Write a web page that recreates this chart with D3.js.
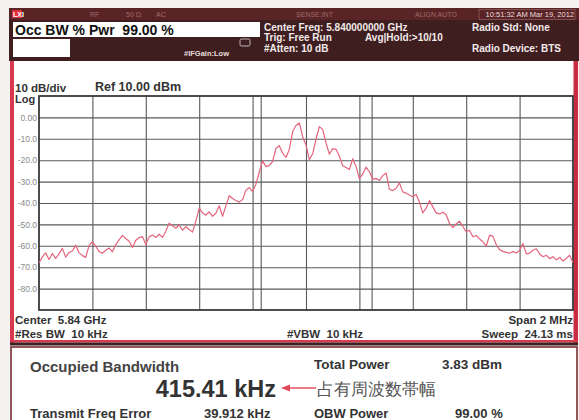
<!DOCTYPE html>
<html>
<head>
<meta charset="utf-8">
<script src="https://cdn.jsdelivr.net/npm/d3@7"></script>
<style>
  html, body { margin: 0; padding: 0; background: #f4f2f1; }
  svg { display: block; }
  text { font-family: "Liberation Sans", Arial, sans-serif; white-space: pre; }
</style>
</head>
<body>
<svg id="screen" width="579" height="420"></svg>
<script>
// Sweep settings
const centerGHz = 5.84;
const spanKHz = 2000;
const refLevel = 10;          // dBm, top of the graticule
const dbPerDiv = 10;
const divisions = 10;

// Measured trace (dBm), one point every 12.5 kHz from center-1 MHz to center+1 MHz
const traceStartKHz = -1000;
const traceStepKHz = 12.5;
const traceDbm = [
  -68.0, -65.2, -63.3, -66.4, -63.6, -65.9, -63.8, -61.2, -65.3, -63.1,
  -62.4, -59.8, -63.2, -64.6, -65.4, -59.9, -58.1, -60.2, -62.6, -63.5,
  -62.1, -61.0, -62.8, -59.5, -57.2, -55.1, -56.6, -57.9, -60.8, -57.4,
  -56.2, -55.7, -59.4, -55.8, -55.0, -56.1, -54.6, -56.0, -53.2, -49.4,
  -50.6, -51.8, -50.3, -52.7, -51.1, -52.4, -53.6, -48.5, -42.4, -44.6,
  -45.7, -44.1, -46.2, -44.8, -41.3, -46.2, -41.2, -36.6, -37.9, -38.8,
  -39.6, -38.4, -34.0, -32.8, -34.6, -31.2, -25.5, -20.3, -23.0, -22.4,
  -20.6, -14.5, -13.2, -16.8, -18.7, -15.0, -6.6, -3.8, -2.6, -9.0,
  -12.8, -19.8, -17.0, -10.2, -4.3, -5.6, -12.0, -17.2, -14.6, -14.9,
  -18.2, -22.6, -23.4, -24.4, -19.3, -23.0, -28.6, -26.4, -23.2, -25.4,
  -28.8, -28.6, -29.4, -27.2, -26.0, -33.6, -34.2, -33.1, -30.6, -34.8,
  -35.4, -36.3, -37.1, -36.0, -39.6, -44.6, -42.4, -38.9, -41.8, -44.6,
  -45.1, -44.3, -45.5, -49.6, -51.5, -49.8, -48.5, -51.0, -53.4, -52.7,
  -55.8, -55.2, -56.8, -58.1, -60.2, -55.0, -55.6, -59.4, -61.8, -62.6,
  -63.1, -63.5, -62.7, -63.4, -62.2, -58.9, -63.8, -63.4, -62.1, -61.4,
  -63.8, -65.1, -64.4, -66.0, -65.1, -66.6, -65.4, -67.1, -65.9, -64.4,
  -67.8
];

// Occupied bandwidth result
const obwKHz = 415.41;
const freqErrorKHz = 39.912;
const totalPowerDbm = 3.83;
const obwPowerPct = 99.00;

// Y tick labels shown beside the graticule
const yTickValues = [0, -10, -20, -30, -40, -50, -60, -70, -80];
const yTickLabels = ["0.00", "-10.0", "-20.0", "-30.0", "-40.0", "-50.0", "-60.0", "-70.0", "-80.0"];

const svg = d3.select("#screen");

// ---------- instrument header ----------
const header = svg.append("g");
header.append("rect").attr("x", 9).attr("y", 8).attr("width", 570).attr("height", 53).attr("fill", "#3f1e20");
header.append("rect").attr("x", 9).attr("y", 8).attr("width", 570).attr("height", 12).attr("fill", "#5a2426");
header.append("rect").attr("x", 12).attr("y", 10).attr("width", 10).attr("height", 8).attr("fill", "#e0303c");
header.append("text").attr("x", 13).attr("y", 17).attr("font-size", 7).attr("font-weight", "bold").attr("fill", "#fff").text("LXI");
[["RF", 90], ["50 Ω", 126], ["AC", 156], ["SENSE:INT", 296], ["ALIGN AUTO", 415]].forEach(([t, x]) => {
  header.append("text").attr("x", x).attr("y", 17).attr("font-size", 7).attr("fill", "#a06a6a").text(t);
});
header.append("rect").attr("x", 479).attr("y", 9.5).attr("width", 96).attr("height", 10).attr("fill", "none").attr("stroke", "#8a5a5a").attr("stroke-width", 0.8);
header.append("text").attr("x", 574).attr("y", 17).attr("text-anchor", "end").attr("font-size", 7.5).attr("fill", "#e8dede").text("10:51:32 AM Mar 19, 2012");

header.append("rect").attr("x", 13).attr("y", 22).attr("width", 247).attr("height", 15).attr("fill", "#fff");
header.append("text").attr("x", 15).attr("y", 34.5).attr("font-size", 14).attr("font-weight", "bold").attr("fill", "#111")
  .text("Occ BW % Pwr  " + obwPowerPct.toFixed(2) + " %");
header.append("rect").attr("x", 13).attr("y", 39).attr("width", 57).attr("height", 18).attr("fill", "#fff");
header.append("rect").attr("x", 240).attr("y", 39).attr("width", 10).attr("height", 7).attr("rx", 1.5).attr("fill", "none").attr("stroke", "#ddd").attr("stroke-width", 0.8);
header.append("text").attr("x", 184).attr("y", 56).attr("font-size", 7.5).attr("font-weight", "bold").attr("fill", "#e8dede").text("#IFGain:Low");

const hdrText = [
  ["Center Freq: 5.840000000 GHz", 264, 31],
  ["Trig: Free Run", 264, 41],
  ["Avg|Hold:>10/10", 365, 41],
  ["#Atten: 10 dB", 264, 52],
  ["Radio Std: None", 472, 31],
  ["Radio Device: BTS", 472, 52]
];
hdrText.forEach(([t, x, y]) => {
  header.append("text").attr("x", x).attr("y", y).attr("font-size", 10).attr("font-weight", "bold").attr("fill", "#f2eaea").text(t);
});

// ---------- graticule panel ----------
svg.append("rect").attr("x", 10).attr("y", 61).attr("width", 568).attr("height", 282).attr("fill", "#fff");
svg.append("rect").attr("x", 10).attr("y", 61).attr("width", 4).attr("height", 282).attr("fill", "#d8394e");
svg.append("rect").attr("x", 573.5).attr("y", 61).attr("width", 4.5).attr("height", 282).attr("fill", "#c92c40");
svg.append("rect").attr("x", 10).attr("y", 340).attr("width", 568).attr("height", 2.5).attr("fill", "#d8394e");
svg.append("rect").attr("x", 10).attr("y", 342.5).attr("width", 568).attr("height", 3).attr("fill", "#3a2224");

const plot = { left: 39, right: 573, top: 96, bottom: 310 };

const x = d3.scaleLinear().domain([-spanKHz / 2, spanKHz / 2]).range([plot.left, plot.right]);
const y = d3.scaleLinear().domain([refLevel - dbPerDiv * divisions, refLevel]).range([plot.bottom, plot.top]);

// horizontal grid + level labels
const yAxis = d3.axisLeft(y)
  .tickValues(yTickValues)
  .tickSize(-(plot.right - plot.left))
  .tickPadding(2)
  .tickFormat((d, i) => yTickLabels[i]);
const gy = svg.append("g").attr("transform", `translate(${plot.left},0)`).call(yAxis);
gy.select(".domain").remove();
gy.selectAll(".tick line").attr("stroke", "#5a5a5a").attr("stroke-width", 1.1);
gy.selectAll(".tick text").attr("font-size", 8.5).attr("fill", "#8a8a8a").attr("font-family", "Liberation Sans, Arial, sans-serif");

// vertical grid, one line per division
const xDivs = d3.range(1, divisions).map(i => -spanKHz / 2 + i * spanKHz / divisions);
const xAxis = d3.axisBottom(x).tickValues(xDivs).tickSize(-(plot.bottom - plot.top)).tickFormat("");
const gx = svg.append("g").attr("transform", `translate(0,${plot.bottom})`).call(xAxis);
gx.select(".domain").remove();
gx.selectAll(".tick line").attr("stroke", "#5a5a5a").attr("stroke-width", 1.1);

// occupied-bandwidth edge markers
const obwEdges = [freqErrorKHz - obwKHz / 2, freqErrorKHz + obwKHz / 2];
svg.append("g").selectAll("line").data(obwEdges).join("line")
  .attr("x1", d => x(d)).attr("x2", d => x(d))
  .attr("y1", plot.top).attr("y2", plot.bottom)
  .attr("stroke", "#5a5a5a").attr("stroke-width", 1.1);

// graticule border
svg.append("rect").attr("x", plot.left).attr("y", plot.top)
  .attr("width", plot.right - plot.left).attr("height", plot.bottom - plot.top)
  .attr("fill", "none").attr("stroke", "#3a3a3a").attr("stroke-width", 1.8);

// trace
const line = d3.line()
  .x((d, i) => x(traceStartKHz + i * traceStepKHz))
  .y(d => y(d));
svg.append("path").datum(traceDbm).attr("d", line)
  .attr("fill", "none").attr("stroke", "#e4657c").attr("stroke-width", 1.2).attr("stroke-linejoin", "round");

// scale annotations
svg.append("text").attr("x", 15).attr("y", 92).attr("font-size", 11.5).attr("font-weight", "bold").attr("fill", "#333").text("10 dB/div");
svg.append("text").attr("x", 15).attr("y", 102.5).attr("font-size", 11).attr("font-weight", "bold").attr("fill", "#333").text("Log");
svg.append("text").attr("x", 95).attr("y", 91).attr("font-size", 12.5).attr("font-weight", "bold").attr("fill", "#333").text("Ref 10.00 dBm");

const footer = [
  ["Center  " + centerGHz + " GHz", 15, 323.5, "start"],
  ["#Res BW  10 kHz", 15, 337.5, "start"],
  ["#VBW  10 kHz", 325, 337.5, "middle"],
  ["Span 2 MHz", 573, 323.5, "end"],
  ["Sweep  24.13 ms", 573, 337.5, "end"]
];
footer.forEach(([t, fx, fy, a]) => {
  svg.append("text").attr("x", fx).attr("y", fy).attr("text-anchor", a)
    .attr("font-size", 11.5).attr("font-weight", "bold").attr("fill", "#333").text(t);
});

// ---------- measurement results ----------
svg.append("rect").attr("x", 11).attr("y", 347).attr("width", 566).attr("height", 75)
  .attr("fill", "#fff").attr("stroke", "#7a2f33").attr("stroke-width", 1.6);

const res = svg.append("g").attr("fill", "#333");
res.append("text").attr("x", 30).attr("y", 372).attr("font-size", 15).attr("font-weight", "bold").attr("fill", "#444").text("Occupied Bandwidth");
res.append("text").attr("x", 314).attr("y", 369).attr("font-size", 13.5).attr("font-weight", "bold").attr("fill", "#333").text("Total Power");
res.append("text").attr("x", 442).attr("y", 369).attr("font-size", 13.5).attr("font-weight", "bold").attr("fill", "#333").text(totalPowerDbm.toFixed(2) + " dBm");
res.append("text").attr("x", 276).attr("y", 397).attr("text-anchor", "end").attr("font-size", 23.5).attr("font-weight", "bold").attr("fill", "#333").text(obwKHz.toFixed(2) + " kHz");

// annotation arrow pointing at the bandwidth value
res.append("line").attr("x1", 316).attr("x2", 288).attr("y1", 388).attr("y2", 388).attr("stroke", "#e0465a").attr("stroke-width", 1.4);
res.append("path").attr("d", "M281,388 L290,384.5 L290,391.5 Z").attr("fill", "#e0465a");
res.append("text").attr("x", 317).attr("y", 395).attr("font-size", 17).attr("fill", "#555")
  .attr("font-family", "Noto Sans CJK JP, sans-serif").text("占有周波数帯幅");

res.append("text").attr("x", 30).attr("y", 418).attr("font-size", 13).attr("font-weight", "bold").attr("fill", "#333").text("Transmit Freq Error");
res.append("text").attr("x", 204).attr("y", 418).attr("font-size", 13).attr("font-weight", "bold").attr("fill", "#333").text(freqErrorKHz.toFixed(3) + " kHz");
res.append("text").attr("x", 314).attr("y", 418).attr("font-size", 13).attr("font-weight", "bold").attr("fill", "#333").text("OBW Power");
res.append("text").attr("x", 455).attr("y", 418).attr("font-size", 13).attr("font-weight", "bold").attr("fill", "#333").text(obwPowerPct.toFixed(2) + " %");
</script>
</body>
</html>
